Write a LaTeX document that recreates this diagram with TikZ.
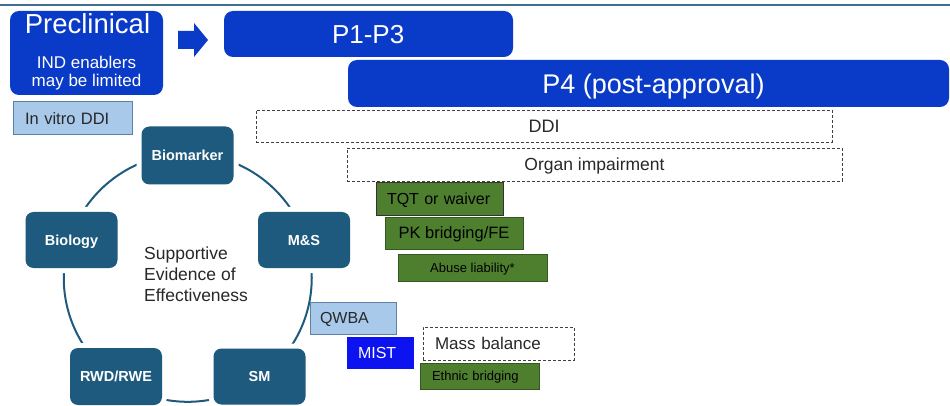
\documentclass[tikz,border=0pt]{standalone}
\usepackage{fontspec}
\setmainfont{Liberation Sans}
\definecolor{deepblue}{RGB}{10,58,200}
\definecolor{mistblue}{RGB}{12,18,240}
\definecolor{lightblue}{RGB}{168,201,234}
\definecolor{lbborder}{RGB}{95,128,165}
\definecolor{leaf}{RGB}{78,127,46}
\definecolor{leafborder}{RGB}{52,88,30}
\definecolor{cyclecol}{RGB}{30,90,125}
\definecolor{toprule}{RGB}{65,110,140}
\definecolor{inkgray}{RGB}{40,40,40}
\newcommand\setfs[1]{\fontsize{#1}{#1}\selectfont}
\tikzset{
  phase/.style={fill=deepblue, rounded corners=9pt, inner sep=0pt, text=white},
  lbox/.style={fill=lightblue, draw=lbborder, line width=1pt, inner ysep=0pt, text=inkgray, align=left},
  dbox/.style={draw=black!75, dash pattern=on 3pt off 2pt, line width=0.8pt, inner sep=0pt, text=inkgray},
  gbox/.style={fill=leaf, draw=leafborder, line width=0.8pt, inner ysep=0pt, text=black},
  cyc/.style={fill=cyclecol, rounded corners=8pt, minimum width=92pt, minimum height=57pt,
    inner sep=0pt, text=white, font=\bfseries\setfs{14.5}, text height=10.4pt, text depth=0pt,
    preaction={draw=white, line width=10pt}},
  txt/.style={inner sep=0pt, anchor=base},
}
\begin{document}
\begin{tikzpicture}[x=1pt, y=-1pt]
\useasboundingbox (0,0) rectangle (950,406);
\fill[white] (0,0) rectangle (950,406);
\clip (0,0) rectangle (950,406);
\draw[toprule, line width=2pt] (0,5) -- (950,5);

% Preclinical
\node[phase, minimum width=153pt, minimum height=84pt] (pre) at (86.5,53) {};
\node[txt, text=white, font=\setfs{27.5}] (pretitle) at (87.5,34) {Preclinical};
\node[txt, text=white, font=\setfs{17}] (presub1) at (86.5,69) {IND enablers};
\node[txt, text=white, font=\setfs{17}] (presub2) at (86.5,86.5) {may be limited};
\fill[deepblue] (178,31) -- (194,31) -- (194,23) -- (208,40) -- (194,57) -- (194,49) -- (178,49) -- cycle;

% Phases
\node[phase, minimum width=289pt, minimum height=46pt, inner xsep=108pt, text width=73pt,
  align=left, font=\setfs{26}, text height=18.6pt, text depth=0pt] (p13) at (368.5,34) {P1-P3};
\node[phase, minimum width=601pt, minimum height=47pt, font=\setfs{27},
  text height=19.3pt, text depth=0pt] (p4) at (648.5,83.5) {\hspace*{10pt}P4 (post-approval)};

% Left column
\node[lbox, minimum width=119pt, minimum height=33pt, inner xsep=12pt, text width=95pt,
  font=\setfs{16.5}, text height=11.8pt, text depth=0pt] (invitro) at (72.5,118.5) {In vitro DDI};

% Dashed bars
\node[dbox, minimum width=576pt, minimum height=32pt, font=\setfs{18},
  text height=12.9pt, text depth=0pt] (ddi) at (544,126) {DDI};
\node[dbox, minimum width=495pt, minimum height=33pt, font=\setfs{17.5},
  text height=12.5pt, text depth=0pt] (organ) at (594.5,164.5) {Organ impairment};

% Green studies
\node[gbox, draw=black!80, minimum width=127pt, minimum height=33pt, inner xsep=11pt, text width=105pt,
  align=left, font=\setfs{16}, text height=11.5pt, text depth=0pt] (tqt) at (439.5,198.5) {TQT or waiver};
\node[gbox, minimum width=138pt, minimum height=32pt, inner xsep=0pt, font=\setfs{16.5},
  text height=11.8pt, text depth=0pt] (pk) at (454,233) {PK bridging/FE};
\node[gbox, minimum width=149pt, minimum height=27pt, inner xsep=0pt, font=\setfs{13},
  text height=9.3pt, text depth=0pt] (abuse) at (472.5,267.5) {Abuse liability*};

% Cycle
\node[draw=cyclecol, line width=2pt, circle, minimum size=248pt, inner sep=0pt] (ring) at (187.75,277.8) {};
\node[cyc, minimum height=58pt] (biomarker) at (187.5,155.5) {Biomarker};
\node[cyc, minimum height=56pt] (ms) at (304,240) {M\&S};
\node[cyc, minimum height=56pt] (sm) at (259.5,376.5) {SM};
\node[cyc, minimum height=57pt] (rwd) at (116,376.5) {RWD/RWE};
\node[cyc, minimum height=56pt] (biology) at (71.5,240) {Biology};
\node[inner sep=0pt, anchor=base west, text=inkgray, font=\setfs{17.5}] (sup1) at (144,259) {Supportive};
\node[inner sep=0pt, anchor=base west, text=inkgray, font=\setfs{17.5}] (sup2) at (144,280) {Evidence of};
\node[inner sep=0pt, anchor=base west, text=inkgray, font=\setfs{17.5}] (sup3) at (144,301) {Effectiveness};

% Lower studies
\node[lbox, minimum width=86pt, minimum height=32pt, inner xsep=10pt, text width=66pt,
  font=\setfs{16}, text height=11.5pt, text depth=0pt] (qwba) at (353,318) {QWBA};
\node[fill=mistblue, minimum width=67pt, minimum height=32pt, inner ysep=0pt, inner xsep=11pt, text width=45pt,
  align=left, text=white, font=\setfs{16}, text height=11.5pt, text depth=0pt] (mist) at (380.5,353) {MIST};
\node[dbox, minimum width=151pt, minimum height=33pt, inner xsep=12pt, text width=127pt, align=left,
  font=\setfs{17}, text height=12.2pt, text depth=0pt] (mass) at (498.5,343.5) {Mass balance};
\node[gbox, minimum width=119pt, minimum height=26pt, inner xsep=12pt, text width=95pt, align=left,
  font=\setfs{13}, text height=9.3pt, text depth=0pt] (ethnic) at (479.5,376) {Ethnic bridging};
\end{tikzpicture}
\end{document}
